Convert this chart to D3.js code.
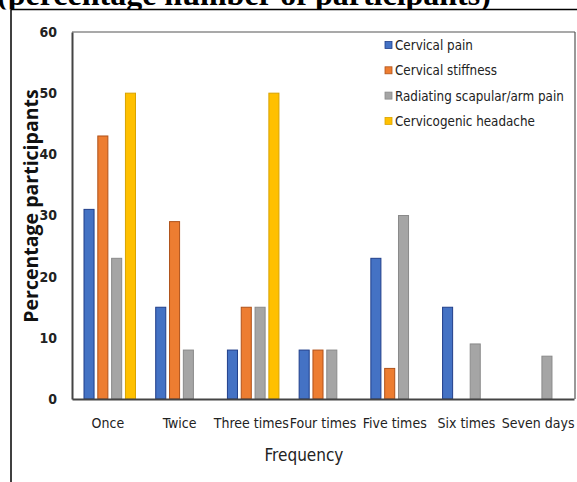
<!DOCTYPE html>
<html><head><meta charset="utf-8">
<script src="https://cdn.jsdelivr.net/npm/d3@7"></script>
<style>body{margin:0;background:#fff}svg{display:block}</style>
</head><body>
<script>
const categories = ["Once","Twice","Three times","Four times","Five times","Six times","Seven days"];
const seriesNames = ["Cervical pain","Cervical stiffness","Radiating scapular/arm pain","Cervicogenic headache"];
const cervicalPain = [31,15,8,8,23,15,null];
const cervicalStiffness = [43,29,15,8,5,null,null];
const radiatingPain = [23,8,15,8,30,9,7];
const cervicogenicHeadache = [50,null,50,null,null,null,null];
const yTicks = [0,10,20,30,40,50,60];
const colors = ["#4472C4","#ED7D31","#A5A5A5","#FFC000"];
const strokes = ["#203F8A","#B0521A","#8A8A8A","#D9A300"];
const series = [cervicalPain, cervicalStiffness, radiatingPain, cervicogenicHeadache];

const W = 577, H = 482;
const svg = d3.select("body").append("svg").attr("width",W).attr("height",H);
const narrow = "'DejaVu Sans Condensed','Liberation Sans Narrow',sans-serif";

// clipped title
svg.append("text").attr("x",-3).attr("y",5)
  .attr("font-family","'Liberation Serif','Times New Roman',serif")
  .attr("font-weight","bold").attr("font-size",32).attr("fill","#000")
  .text("(percentage number of participants)");

// outer frame
svg.append("rect").attr("x",0).attr("y",9.5).attr("width",W).attr("height",H).attr("fill","#fff");
svg.append("line").attr("x1",11).attr("x2",W).attr("y1",9.5).attr("y2",9.5).attr("stroke","#000").attr("stroke-width",1.5);
svg.append("line").attr("x1",11).attr("x2",11).attr("y1",9.5).attr("y2",H).attr("stroke","#000").attr("stroke-width",1.5);

const L = 72, R = 574, T = 32, B = 399;
const y = d3.scaleLinear().domain([0,60]).range([B,T]);
const x0 = d3.scaleBand().domain(categories).range([L,R]).padding(0);
const x1 = d3.scaleBand().domain(d3.range(4)).range([11.5,64]).paddingInner(0.2).paddingOuter(0);

// plot frame top/right
svg.append("line").attr("x1",L).attr("x2",R+1).attr("y1",T).attr("y2",T).attr("stroke","#555").attr("stroke-width",1.2);
svg.append("line").attr("x1",R+1).attr("x2",R+1).attr("y1",T).attr("y2",B).attr("stroke","#555").attr("stroke-width",1.2);

const groups = svg.append("g").selectAll("g").data(categories).join("g")
  .attr("transform",d=>`translate(${x0(d)},0)`);
groups.selectAll("rect").data((d,i)=>series.map((s,k)=>({k,v:s[i]})).filter(e=>e.v!=null))
  .join("rect")
  .attr("x",e=>x1(e.k)+0.5).attr("width",x1.bandwidth()-1)
  .attr("y",e=>y(e.v)).attr("height",e=>y(0)-y(e.v))
  .attr("fill",e=>colors[e.k]).attr("stroke",e=>strokes[e.k]).attr("stroke-width",1);

// y axis
const ya = svg.append("g").attr("transform",`translate(${L},0)`)
  .call(d3.axisLeft(y).tickValues(yTicks).tickSize(0).tickPadding(15));
ya.select(".domain").attr("stroke","#444").attr("stroke-width",2);
ya.selectAll("text").attr("font-family",narrow).attr("font-size",14).attr("font-weight","bold").attr("fill","#222");

// x axis
const xa = svg.append("g").attr("transform",`translate(0,${B})`)
  .call(d3.axisBottom(x0).tickSize(0).tickPadding(19));
xa.select(".domain").attr("stroke","#444").attr("stroke-width",2);
xa.selectAll("text").attr("font-family",narrow).attr("font-size",14).attr("fill","#222");

// axis titles
svg.append("text").attr("transform","translate(38,206) rotate(-90)").attr("text-anchor","middle")
  .attr("font-family","'Open Sans',sans-serif").attr("font-weight","bold").attr("font-size",19.5).attr("fill","#111")
  .text("Percentage participants");
svg.append("text").attr("x",304).attr("y",461).attr("text-anchor","middle")
  .attr("font-family",narrow).attr("font-size",17).attr("fill","#222").text("Frequency");

// legend
const lg = svg.append("g").selectAll("g").data(seriesNames).join("g")
  .attr("transform",(d,i)=>`translate(385,${45+i*25.3})`);
lg.append("rect").attr("x",0).attr("y",-3.5).attr("width",7).attr("height",7)
  .attr("fill",(d,i)=>colors[i]).attr("stroke",(d,i)=>strokes[i]).attr("stroke-width",0.8);
lg.append("text").attr("x",10).attr("y",5).attr("font-family",narrow).attr("font-size",13.3).attr("fill","#222").text(d=>d);
</script>
</body></html>
